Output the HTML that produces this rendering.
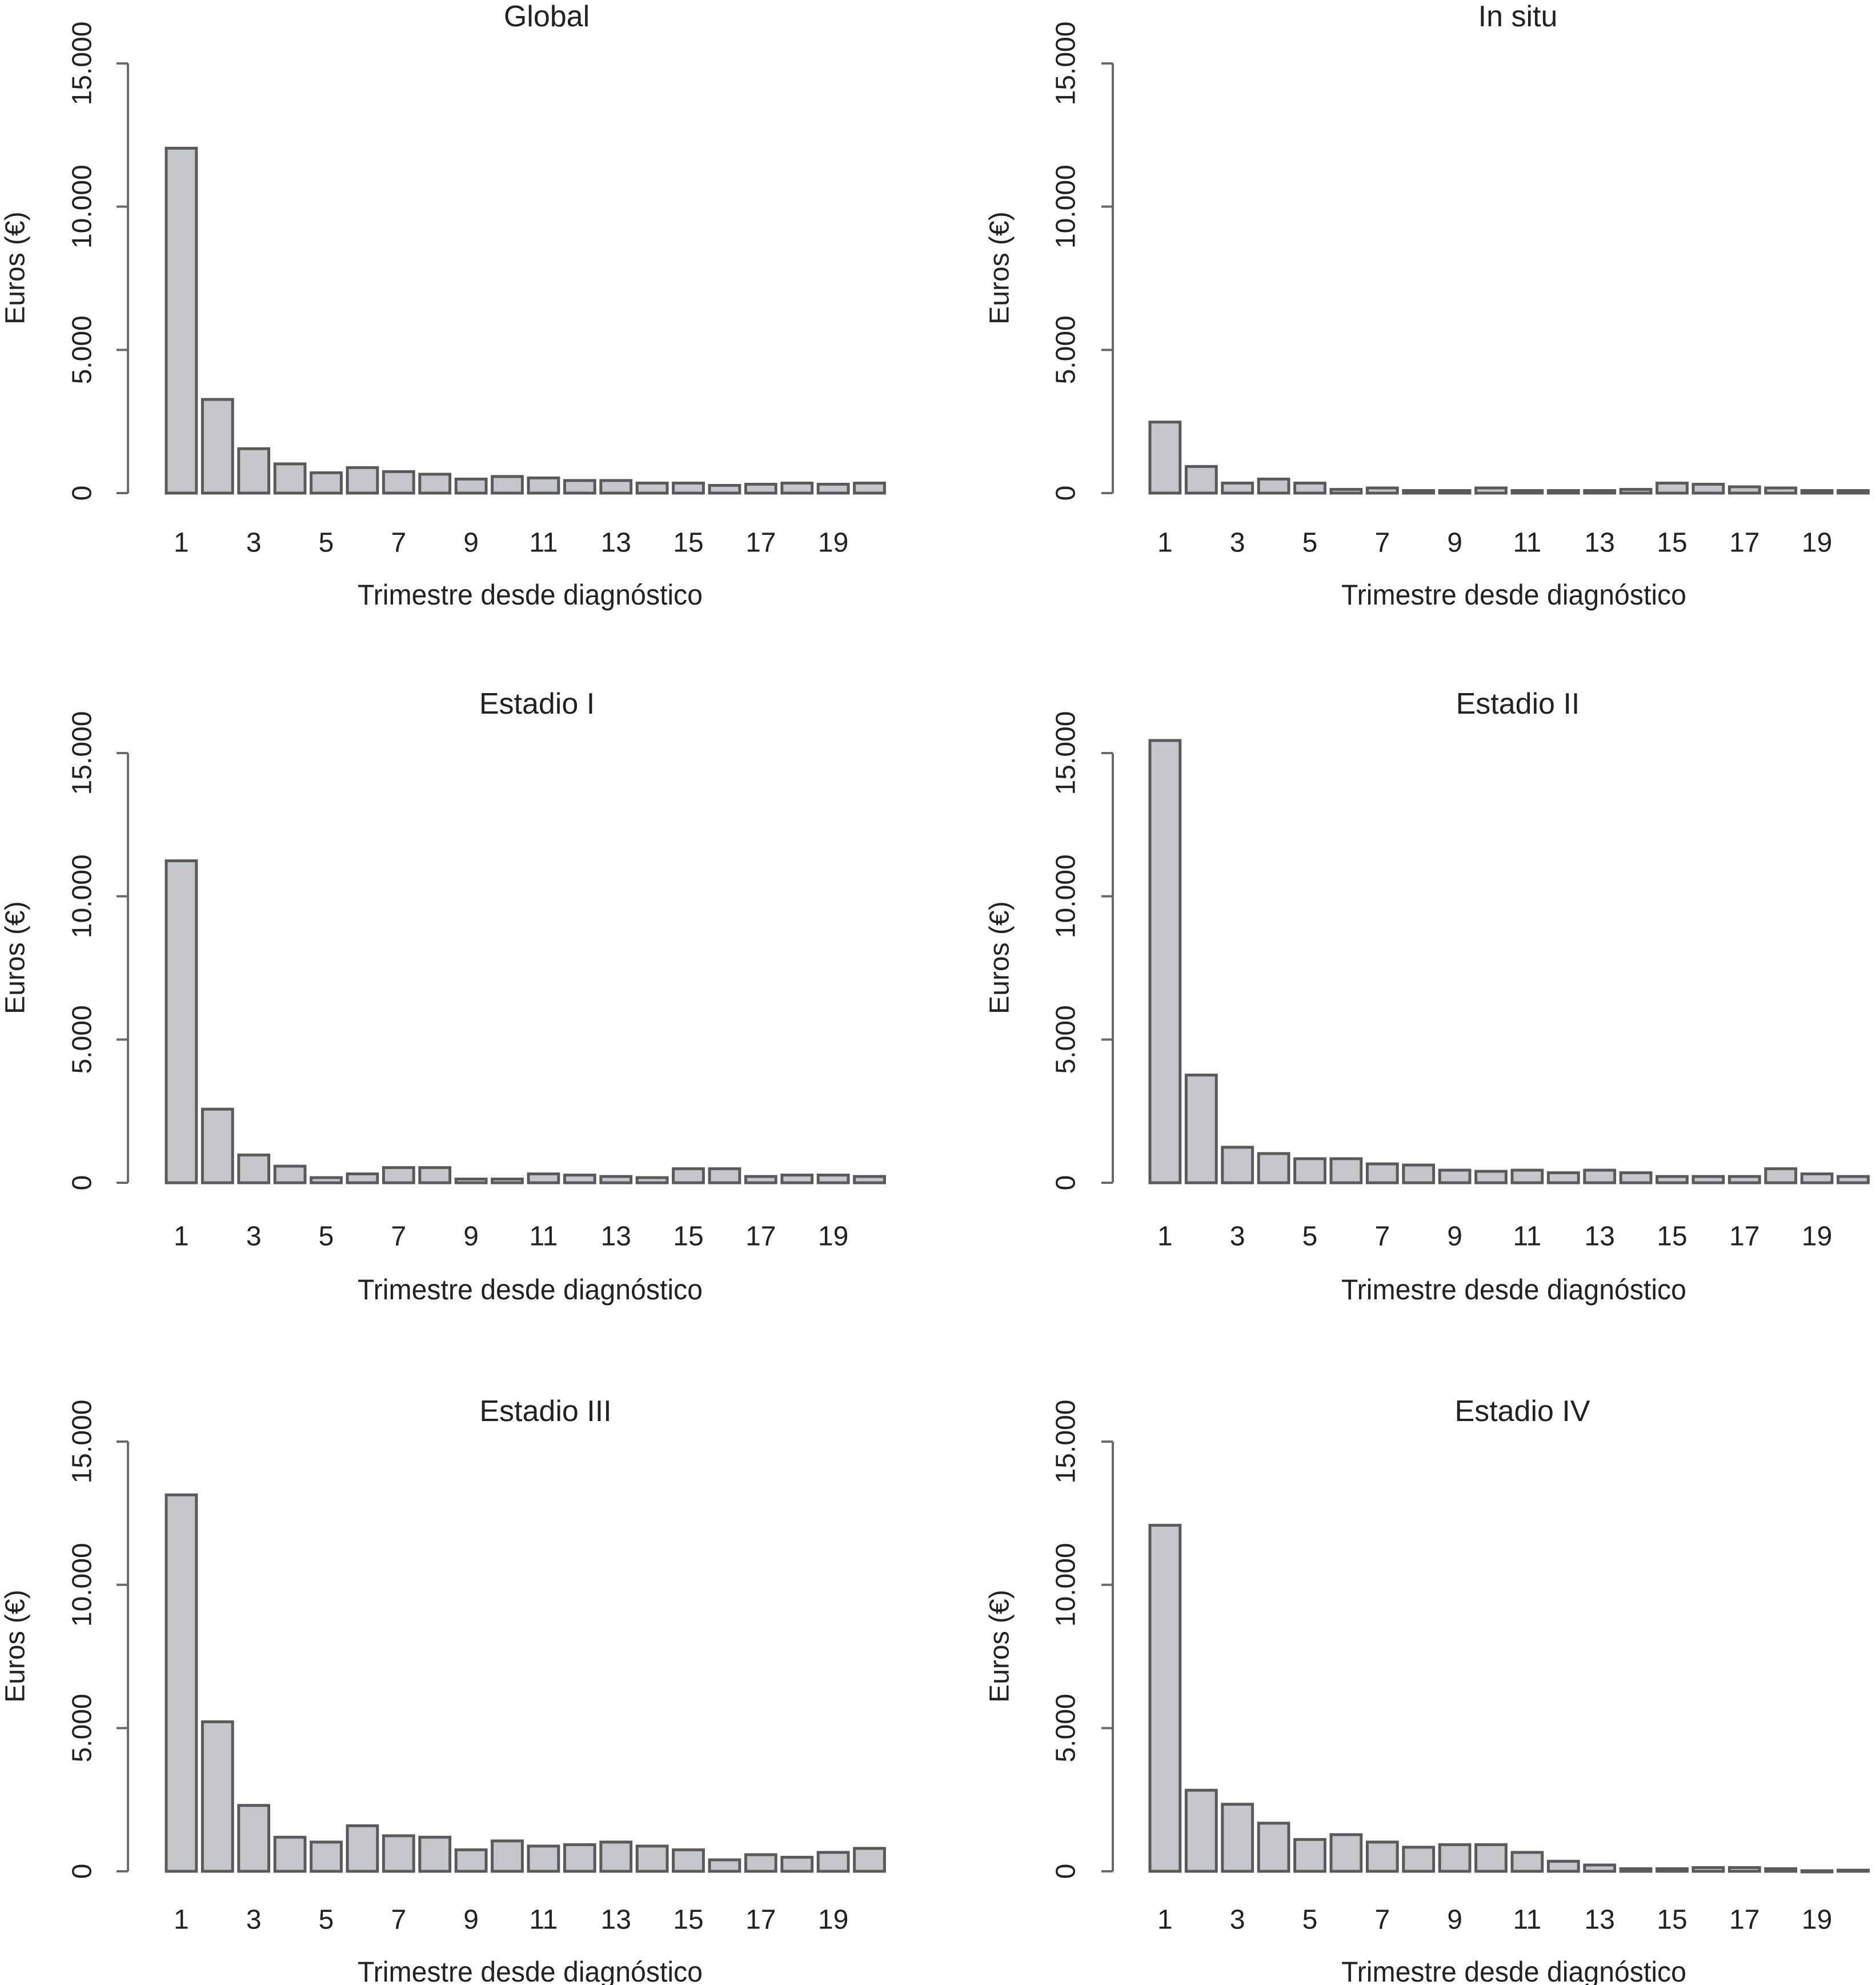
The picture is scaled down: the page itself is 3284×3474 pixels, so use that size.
<!DOCTYPE html>
<html><head><meta charset="utf-8">
<style>
html,body{margin:0;padding:0;background:#fff;}
svg{display:block;}
text{font-family:"Liberation Sans",sans-serif;fill:#222;}
</style></head>
<body>
<svg id="fig" width="3284" height="3474" viewBox="0 0 3284 3474" xmlns="http://www.w3.org/2000/svg"></svg>
<script>
const categories = [1,2,3,4,5,6,7,8,9,10,11,12,13,14,15,16,17,18,19,20];
const xTickLabels = ["1","3","5","7","9","11","13","15","17","19"];
const yTicks = [0,5000,10000,15000];
const yTickLabels = ["0","5.000","10.000","15.000"];
const panelTitles = ["Global","In situ","Estadio I","Estadio II","Estadio III","Estadio IV"];
const globalValues = [12040,3270,1550,1020,710,890,750,660,490,580,530,440,440,350,350,270,310,350,310,350];
const inSituValues = [2480,930,350,490,350,130,180,90,90,180,90,90,90,130,350,310,220,180,90,90];
const estadioIValues = [11240,2570,970,580,180,310,530,530,130,130,310,270,220,180,490,490,220,270,270,220];
const estadioIIValues = [15440,3760,1240,1020,840,840,660,620,440,400,440,350,440,350,220,220,220,490,310,220];
const estadioIIIValues = [13140,5220,2300,1190,1020,1590,1240,1190,750,1060,880,930,1020,880,750,400,580,490,660,800];
const estadioIVValues = [12080,2830,2340,1680,1110,1280,1020,840,930,930,660,350,220,90,90,130,130,90,20,40];
const series = [globalValues,inSituValues,estadioIValues,estadioIIValues,estadioIIIValues,estadioIVValues];

const NS = "http://www.w3.org/2000/svg";
const svg = document.getElementById("fig");
function mk(tag, attrs, parent){
  const e = document.createElementNS(NS, tag);
  for (const k in attrs) e.setAttribute(k, attrs[k]);
  parent.appendChild(e);
  return e;
}
const colAxis = [224, 1948];
const colBar0 = [291, 2013];
const colXlabX = [928, 2650];
const colYtickX = [144, 1866];
const colYtitleX = [27, 1750];
const titleX = [957, 2657, 940, 2657, 955, 2665];
const rowTop = [111, 1318, 2523];
const rowZero = [863, 2070, 3275];
const rowTitleY = [29, 1232, 2470];
const rowTickY = [950, 2164, 3360];
const rowXlabY = [1041, 2257, 3451];
const pitch = 63.4, bw = 52.8;

for (let p = 0; p < 6; p++){
  const c = p % 2, r = Math.floor(p / 2);
  const g = mk("g", {}, svg);
  
  
  const y0 = rowZero[r], yT = rowTop[r];
  const yScale = v => y0 - v / 15000 * (y0 - yT);
  const xLeft = i => colBar0[c] + i * pitch;

  const t = mk("text", {x: titleX[p], y: rowTitleY[r], "font-size": 52, "text-anchor": "middle", "dominant-baseline": "central"}, g);
  t.textContent = panelTitles[p];
  
  

  const ax = mk("line", {x1: colAxis[c], x2: colAxis[c], y1: yScale(15000), y2: yScale(0), stroke: "#6a6a6a", "stroke-width": 4}, g);
  
  

  yTicks.forEach((v, k) => {
    const tk = mk("line", {x1: colAxis[c] - 20, x2: colAxis[c], y1: yScale(v), y2: yScale(v), stroke: "#6a6a6a", "stroke-width": 4}, g);
    
    
    const tl = mk("text", {x: 0, y: 0, "font-size": 48, "text-anchor": "middle", "dominant-baseline": "central",
      transform: "translate(" + colYtickX[c] + "," + yScale(v) + ") rotate(-90)"}, g);
    tl.textContent = yTickLabels[k];
    
    
  });

  const yt = mk("text", {x: 0, y: 0, "font-size": 48, "text-anchor": "middle", "dominant-baseline": "central",
    transform: "translate(" + colYtitleX[c] + "," + (yScale(7500) - 18) + ") rotate(-90)"}, g);
  yt.textContent = "Euros (€)";
  
  

  series[p].forEach((v, i) => {
    const top = yScale(v);
    const b = mk("rect", {x: xLeft(i), y: top, width: bw, height: Math.max(y0 - top, 2), fill: "#c5c6c9", stroke: "#5a5a5a", "stroke-width": 5}, g);
    
    
  });

  xTickLabels.forEach((lab, k) => {
    const i = parseInt(lab, 10) - 1;
    const xl = mk("text", {x: xLeft(i) + bw / 2, y: rowTickY[r], "font-size": 48, "text-anchor": "middle", "dominant-baseline": "central"}, g);
    xl.textContent = lab;
    
    
  });

  const xt = mk("text", {x: colXlabX[c], y: rowXlabY[r], "font-size": 50, "text-anchor": "middle", "dominant-baseline": "central", textLength: 604, lengthAdjust: "spacingAndGlyphs"}, g);
  xt.textContent = "Trimestre desde diagnóstico";
  
  
}
</script>
</body></html>
